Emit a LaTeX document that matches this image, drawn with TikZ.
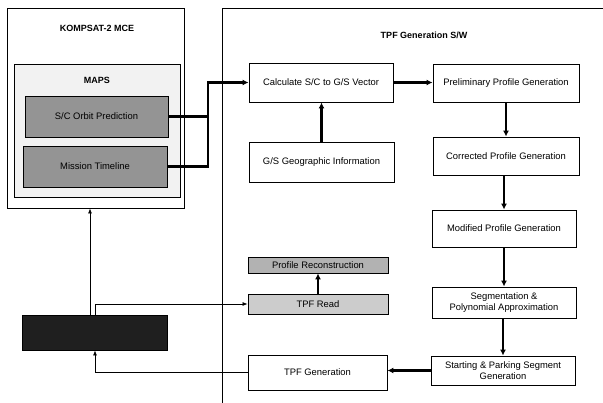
\documentclass[tikz,border=0pt]{standalone}
\usepackage{fontspec}
\setmainfont{Liberation Sans}
\usetikzlibrary{arrows.meta}
\begin{document}
\begin{tikzpicture}[x=1pt,y=-1pt,
  box/.style={draw=black,line width=0.9pt,inner sep=0pt,align=center,font=\fontsize{9.4}{11.6}\selectfont},
  darkfill/.style={fill=black!42},
  thick arrow/.style={line width=2.2pt,-{Latex[length=6pt,width=6pt]}},
  thick line/.style={line width=2.2pt},
  thin arrow/.style={line width=0.7pt,-{Latex[length=5pt,width=4pt]}},
  ttl/.style={font=\bfseries\fontsize{9}{11}\selectfont}]
\useasboundingbox[fill=white] (0,0) rectangle (603,403);
% KOMPSAT-2 MCE frame
\node[box,minimum width=177pt,minimum height=200pt] (mce) at (95.5,108) {};
\node[ttl] (mcet) at (97,28) {KOMPSAT-2 MCE};
\node[box,fill=black!5,line width=0.7pt,minimum width=166pt,minimum height=133pt] (maps) at (97,130.5) {};
\node[ttl] (mapst) at (97,80) {MAPS};
\node[box,darkfill,minimum width=143pt,minimum height=41pt] (orbit) at (96.5,116.5) {S/C Orbit Prediction};
\node[box,darkfill,minimum width=144pt,minimum height=41pt] (mtl) at (95,166.5) {Mission Timeline};
% TPF Generation S/W frame
\draw[line width=0.8pt] (603,8) -- (222,8) -- (222,403);
\node[ttl] (swt) at (424,35) {TPF Generation S/W};
\node[box,minimum width=144pt,minimum height=39pt] (calc) at (321,82.5) {Calculate S/C to G/S Vector};
\node[box,minimum width=146pt,minimum height=38pt] (prelim) at (506,83) {Preliminary Profile Generation};
\node[box,minimum width=145pt,minimum height=40pt] (gs) at (321.5,162) {G/S Geographic Information};
\node[box,minimum width=146pt,minimum height=38pt] (corr) at (506,156) {Corrected Profile Generation};
\node[box,minimum width=144pt,minimum height=37pt] (mod) at (504,228.5) {Modified Profile Generation};
\node[box,minimum width=144pt,minimum height=31pt] (seg) at (504,302.5) {Segmentation \&\\Polynomial Approximation};
\node[box,minimum width=144pt,minimum height=29pt] (start) at (503,370.5) {Starting \& Parking Segment\\Generation};
\node[box,minimum width=139pt,minimum height=35pt] (tpfgen) at (317.5,372.5) {TPF Generation};
\node[box,fill=black!30,minimum width=140pt,minimum height=16pt] (prec) at (318,265) {Profile Reconstruction};
\node[box,fill=black!20,minimum width=140pt,minimum height=20pt] (tread) at (318,304) {TPF Read};
\node[box,fill=black!88,minimum width=145pt,minimum height=35pt] (blk) at (94.5,332.5) {};
% thick connectors
\coordinate (jx) at (208,0);
\draw[thick line] (orbit.east) -- (orbit.east -| jx);
\draw[thick arrow] (mtl.east) -- (mtl.east -| jx) |- (calc.west);
\draw[thick arrow] (calc.east) -- (calc.east -| prelim.west);
\draw[thick arrow] (gs.north) -- (gs.north |- calc.south);
\draw[thick arrow] (prelim.south) -- (prelim.south |- corr.north);
\draw[thick arrow] (corr.south -| mod.north) -- (mod.north);
\draw[thick arrow] (mod.south) -- (seg.north);
\draw[thick arrow] (seg.south -| start.north) -- (start.north);
\draw[thick arrow] (start.west) -- (start.west -| tpfgen.east);
\draw[thick arrow] (tread.north) -- (tread.north |- prec.south);
% thin connectors
\coordinate (ax) at (90,0);
\coordinate (bx) at (95,0);
\draw[thin arrow] (blk.north -| ax) -- (mce.south -| ax);
\draw[thin arrow] (blk.north -| bx) |- (tread.west);
\draw[thin arrow] (tpfgen.west) -| (blk.south -| bx);
\end{tikzpicture}
\end{document}
